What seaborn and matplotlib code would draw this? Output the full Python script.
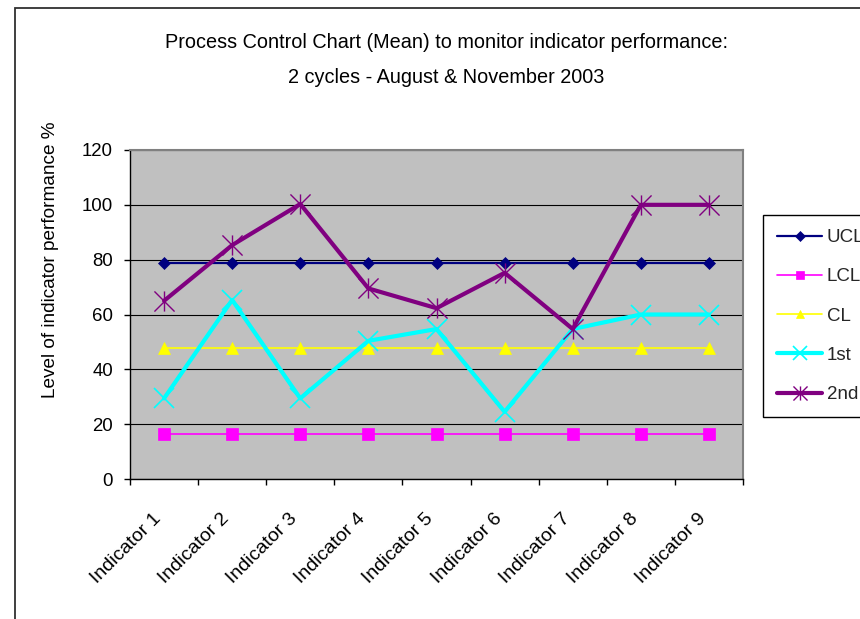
import numpy as np
import pandas as pd
import matplotlib
matplotlib.use("Agg")
import matplotlib.pyplot as plt
import matplotlib.transforms as mtransforms
from matplotlib.path import Path
from matplotlib.patches import Rectangle
import seaborn as sns

# ---- data ----
categories = ["Indicator 1", "Indicator 2", "Indicator 3", "Indicator 4", "Indicator 5",
              "Indicator 6", "Indicator 7", "Indicator 8", "Indicator 9"]
ucl = [78.9, 78.9, 78.9, 78.9, 78.9, 78.9, 78.9, 78.9, 78.9]
lcl = [16.3, 16.3, 16.3, 16.3, 16.3, 16.3, 16.3, 16.3, 16.3]
cl = [47.6, 47.6, 47.6, 47.6, 47.6, 47.6, 47.6, 47.6, 47.6]
first = [29.4, 65.3, 29.4, 50.4, 54.7, 24.5, 54.7, 60, 60]
second = [65, 85.3, 100.3, 69.5, 62.3, 75.2, 54.7, 100, 100]
y_ticks = [0, 20, 40, 60, 80, 100, 120]
title1 = "Process Control Chart (Mean) to monitor indicator performance:"
title2 = "2 cycles - August & November 2003"
ylabel = "Level of indicator performance %"

sns.set_theme(style="white")
plt.rcParams['font.family'] = ['Liberation Sans', 'DejaVu Sans']

W, H = 860, 619
fig = plt.figure(figsize=(W / 100, H / 100), dpi=100)
fig.patch.set_facecolor("white")

# axes placement (pixels)
L, R, T, B = 130, 743, 150, 479
ax = fig.add_axes([L / W, 1 - B / H, (R - L) / W, (B - T) / H])
ax.set_facecolor("#C0C0C0")

# star marker (x plus vertical bar)
star = Path([(-1, -1), (1, 1), (-1, 1), (1, -1), (0, -1), (0, 1)],
            [Path.MOVETO, Path.LINETO, Path.MOVETO, Path.LINETO, Path.MOVETO, Path.LINETO])

series = [
    ("UCL", ucl, dict(color="#000080", lw=1.6, marker="D", ms=6.6, mec="#000080", mfc="#000080", mew=0.5)),
    ("LCL", lcl, dict(color="#FF00FF", lw=1.2, marker="s", ms=8, mec="#FF00FF", mfc="#FF00FF", mew=0.5)),
    ("CL", cl, dict(color="#FFFF00", lw=1.2, marker="^", ms=9, mec="#FFFF00", mfc="#FFFF00", mew=0.5)),
    ("1st", first, dict(color="#00FFFF", lw=3.0, marker="x", ms=14, mec="#00FFFF", mew=1.2)),
    ("2nd", second, dict(color="#800080", lw=3.0, marker=star, ms=14.5, mec="#800080", mfc="none", mew=1.0)),
]

for name, vals, kw in series:
    df = pd.DataFrame({"cat": categories, "val": vals})
    sns.lineplot(data=df, x="cat", y="val", ax=ax, label=name, sort=False,
                 zorder=3, **kw)

ax.set_xlim(-0.5, len(categories) - 0.5)
ax.set_ylim(0, 120)
ax.set_yticks(y_ticks)
ax.set_yticklabels([str(v) for v in y_ticks])
ax.set_xticks(range(len(categories)))
ax.set_xticklabels(categories, rotation=45, ha="right", va="center", rotation_mode="anchor")
ax.set_xticks(np.arange(-0.5, len(categories), 1.0), minor=True)
ax.tick_params(axis="x", which="major", length=0, pad=26, labelsize=14, colors="black")
ax.tick_params(axis="x", which="minor", length=4.5, width=1.0, direction="out", color="black", bottom=True)
ax.tick_params(axis="y", which="major", length=4.2, width=1.0, direction="out", pad=8.0,
               labelsize=13.4, colors="black", left=True)

# nudge x tick labels slightly left/down to match reference placement
offset = mtransforms.ScaledTranslation(-4 / 72, -1 / 72, fig.dpi_scale_trans)
for lab in ax.get_xticklabels():
    lab.set_transform(lab.get_transform() + offset)

ax.yaxis.grid(True, color="black", lw=0.8)
ax.xaxis.grid(False)
ax.set_axisbelow(True)

for s in ["top", "right"]:
    ax.spines[s].set_color("#808080")
    ax.spines[s].set_linewidth(1.5)
for s in ["left", "bottom"]:
    ax.spines[s].set_color("black")
    ax.spines[s].set_linewidth(1.0)

ax.set_xlabel("")
ax.set_ylabel(ylabel, fontsize=13.7, color="black", va="center")
ax.yaxis.set_label_coords((51 - L) / (R - L), (B - 260) / (B - T))

# legend
leg = ax.legend(loc="upper left", bbox_to_anchor=(763 / W, 1 - 215 / H),
                bbox_transform=fig.transFigure, frameon=True, fancybox=False,
                framealpha=1, edgecolor="black", facecolor="white",
                fontsize=13.5, handlelength=2.4, handletextpad=0.25,
                labelspacing=1.18, borderpad=0.75, borderaxespad=0,
                markerscale=0.7)
leg.get_frame().set_linewidth(1.0)

# titles
fig.text(446 / W, 1 - 48 / H, title1, ha="center", va="baseline", fontsize=14.3, color="black")
fig.text(446 / W, 1 - 83 / H, title2, ha="center", va="baseline", fontsize=14.3, color="black")

# chart border
fig.patches.append(Rectangle((15 / W, -0.2), 1.5, 0.2 + 1 - 8 / H, transform=fig.transFigure,
                             fill=False, edgecolor="#303030", lw=1.3, clip_on=False))

fig.savefig("out.png", dpi=100)
